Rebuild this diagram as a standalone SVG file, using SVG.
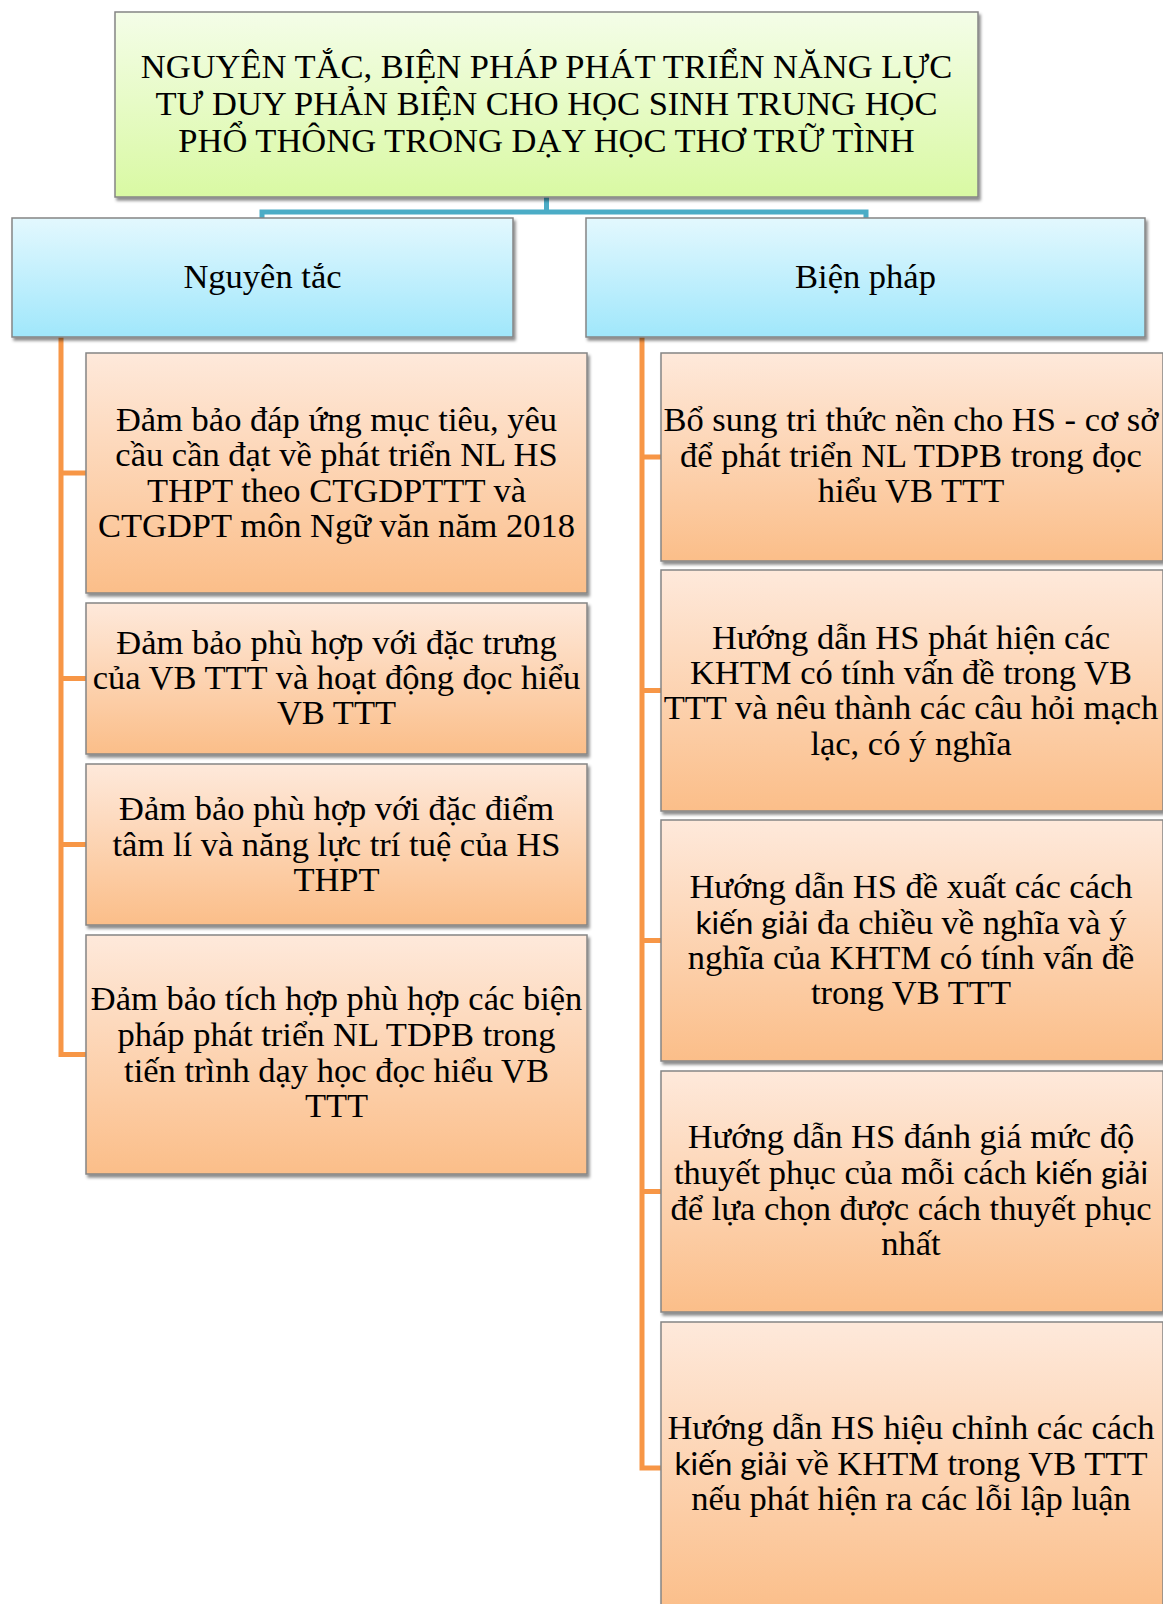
<svg xmlns="http://www.w3.org/2000/svg" width="1163" height="1604" viewBox="0 0 1163 1604">
  <defs>
    <linearGradient id="gGreen" x1="0" y1="0" x2="0" y2="1">
      <stop offset="0" stop-color="#f4fde8"/>
      <stop offset="1" stop-color="#d9f9a3"/>
    </linearGradient>
    <linearGradient id="gBlue" x1="0" y1="0" x2="0" y2="1">
      <stop offset="0" stop-color="#e3f8fe"/>
      <stop offset="1" stop-color="#a0e7fb"/>
    </linearGradient>
    <linearGradient id="gOrange" x1="0" y1="0" x2="0" y2="1">
      <stop offset="0" stop-color="#fee9db"/>
      <stop offset="1" stop-color="#fbbe89"/>
    </linearGradient>
    <filter id="shadow" x="-5%" y="-5%" width="112%" height="115%">
      <feDropShadow dx="2" dy="3" stdDeviation="1.6" flood-color="#000" flood-opacity="0.45"/>
    </filter>
  </defs>
  <style>
    .box { stroke: #858585; stroke-width: 1.5; filter: url(#shadow); }
    .green { fill: url(#gGreen); }
    .blue { fill: url(#gBlue); }
    .orange { fill: url(#gOrange); }
    text { font-family: "Liberation Serif", "Times New Roman", serif; fill: #000; text-anchor: middle; font-size: 34.5px; }
    .title { font-size: 34.5px; }
    .sans { font-family: Lato, "Liberation Sans", sans-serif; font-size: 31.5px; }
    .link-blue { fill: none; stroke: #4bacc6; stroke-width: 5; }
    .link-orange { fill: none; stroke: #f79646; stroke-width: 5; }
  </style>

  <rect width="1163" height="1604" fill="#ffffff"/>

  <!-- connectors -->
  <g id="connectors">
    <path class="link-blue" d="M546.5 197 V212 M262 219 V212 H866 V219"/>
    <path class="link-orange" d="M61 336 V1054.5 H87 M61 473 H87 M61 678.5 H87 M61 844.5 H87"/>
    <path class="link-orange" d="M642 336 V1468 H662 M642 457 H662 M642 690.5 H662 M642 940.5 H662 M642 1191.5 H662"/>
  </g>

  <!-- root -->
  <g id="root">
    <rect class="box green" x="115" y="12" width="863" height="185"/>
    <text class="title" x="546.5" y="78">NGUYÊN TẮC, BIỆN PHÁP PHÁT TRIỂN NĂNG LỰC<tspan x="546.5" dy="37">TƯ DUY PHẢN BIỆN CHO HỌC SINH TRUNG HỌC</tspan><tspan x="546.5" dy="37">PHỔ THÔNG TRONG DẠY HỌC THƠ TRỮ TÌNH</tspan></text>
  </g>

  <!-- branch headers -->
  <g id="nguyen-tac">
    <rect class="box blue" x="12" y="218" width="501" height="119"/>
    <text x="262.5" y="288">Nguyên tắc</text>
  </g>
  <g id="bien-phap">
    <rect class="box blue" x="586" y="218" width="559" height="119"/>
    <text x="865.5" y="288">Biện pháp</text>
  </g>

  <!-- principles -->
  <g id="nt1">
    <rect class="box orange" x="86" y="353" width="501" height="240"/>
    <text x="336.5" y="431">Đảm bảo đáp ứng mục tiêu, yêu<tspan x="336.5" y="466">cầu cần đạt về phát triển NL HS</tspan><tspan x="336.5" y="502">THPT theo CTGDPTTT và</tspan><tspan x="336.5" y="537">CTGDPT môn Ngữ văn năm 2018</tspan></text>
  </g>
  <g id="nt2">
    <rect class="box orange" x="86" y="603" width="501" height="151"/>
    <text x="336.5" y="654">Đảm bảo phù hợp với đặc trưng<tspan x="336.5" y="689">của VB TTT và hoạt động đọc hiểu</tspan><tspan x="336.5" y="724">VB TTT</tspan></text>
  </g>
  <g id="nt3">
    <rect class="box orange" x="86" y="764" width="501" height="161"/>
    <text x="336.5" y="820">Đảm bảo phù hợp với đặc điểm<tspan x="336.5" y="856">tâm lí và năng lực trí tuệ của HS</tspan><tspan x="336.5" y="891">THPT</tspan></text>
  </g>
  <g id="nt4">
    <rect class="box orange" x="86" y="935" width="501" height="239"/>
    <text x="336.5" y="1010">Đảm bảo tích hợp phù hợp các biện<tspan x="336.5" y="1046">pháp phát triển NL TDPB trong</tspan><tspan x="336.5" y="1082">tiến trình dạy học đọc hiểu VB</tspan><tspan x="336.5" y="1117">TTT</tspan></text>
  </g>

  <!-- measures -->
  <g id="bp1">
    <rect class="box orange" x="661" y="353" width="502" height="208"/>
    <text x="911" y="431">Bổ sung tri thức nền cho HS - cơ sở<tspan x="911" y="467">để phát triển NL TDPB trong đọc</tspan><tspan x="911" y="502">hiểu VB TTT</tspan></text>
  </g>
  <g id="bp2">
    <rect class="box orange" x="661" y="570" width="502" height="241"/>
    <text x="911" y="649">Hướng dẫn HS phát hiện các<tspan x="911" y="684">KHTM có tính vấn đề trong VB</tspan><tspan x="911" y="719">TTT và nêu thành các câu hỏi mạch</tspan><tspan x="911" y="755">lạc, có ý nghĩa</tspan></text>
  </g>
  <g id="bp3">
    <rect class="box orange" x="661" y="820" width="502" height="241"/>
    <text x="911" y="898">Hướng dẫn HS đề xuất các cách<tspan x="911" y="934"><tspan class="sans">kiến giải</tspan> đa chiều về nghĩa và ý</tspan><tspan x="911" y="969">nghĩa của KHTM có tính vấn đề</tspan><tspan x="911" y="1004">trong VB TTT</tspan></text>
  </g>
  <g id="bp4">
    <rect class="box orange" x="661" y="1071" width="502" height="241"/>
    <text x="911" y="1148">Hướng dẫn HS đánh giá mức độ<tspan x="911" y="1184">thuyết phục của mỗi cách <tspan class="sans">kiến giải</tspan></tspan><tspan x="911" y="1220">để lựa chọn được cách thuyết phục</tspan><tspan x="911" y="1255">nhất</tspan></text>
  </g>
  <g id="bp5">
    <rect class="box orange" x="661" y="1322" width="502" height="292"/>
    <text x="911" y="1439">Hướng dẫn HS hiệu chỉnh các cách<tspan x="911" y="1475"><tspan class="sans">kiến giải</tspan> về KHTM trong VB TTT</tspan><tspan x="911" y="1510">nếu phát hiện ra các lỗi lập luận</tspan></text>
  </g>
</svg>
